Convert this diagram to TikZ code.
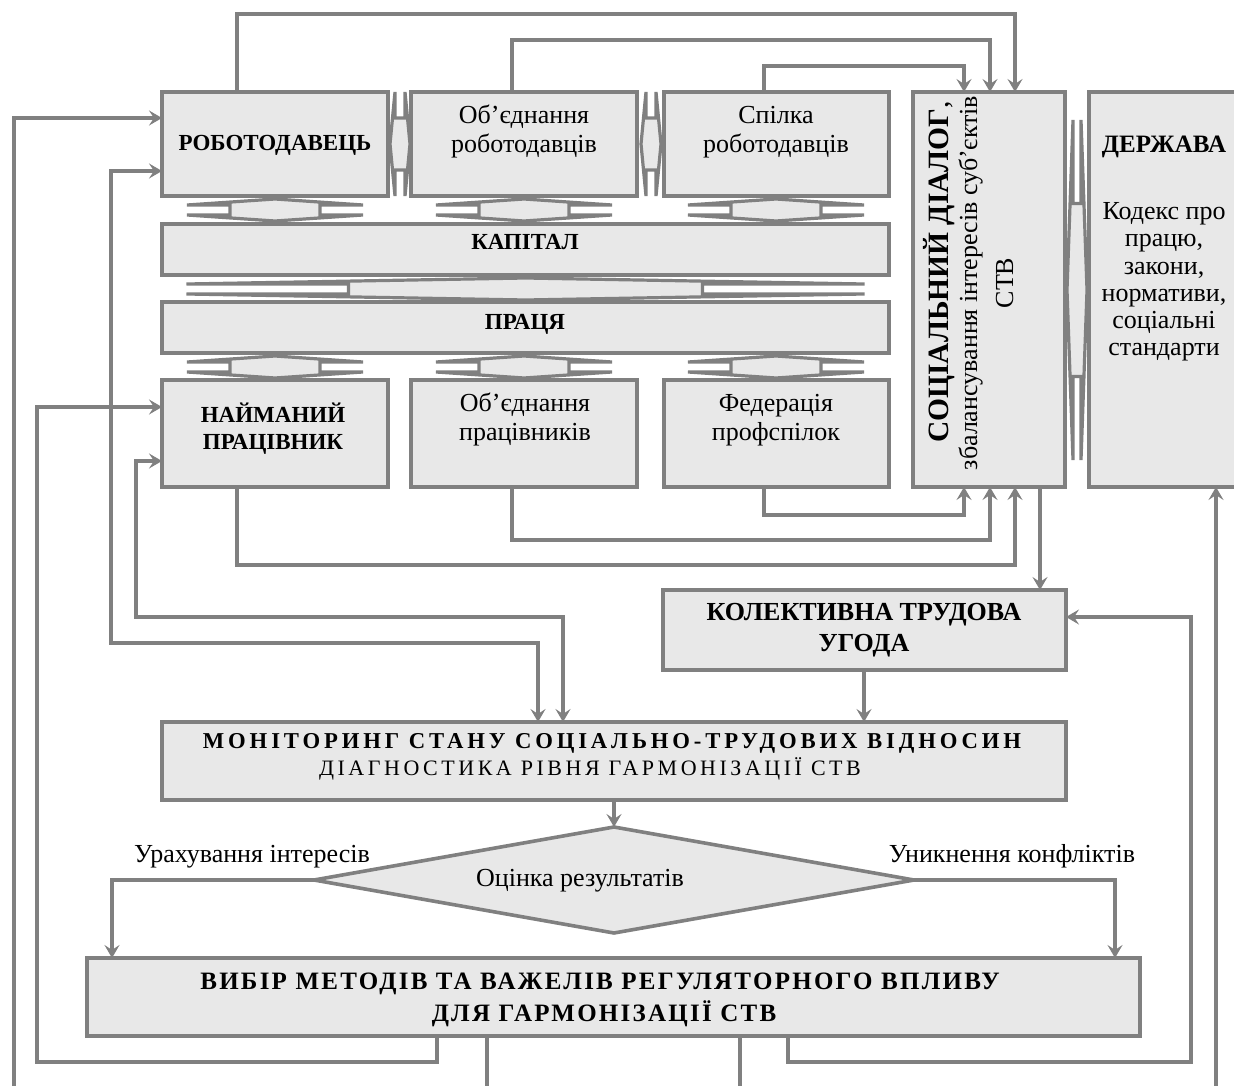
\documentclass[tikz,border=0pt]{standalone}
\usepackage{fontspec}
\setmainfont{Liberation Serif}
\newfontfamily\lsB[LetterSpace=17]{Liberation Serif}
\newfontfamily\lsD[LetterSpace=16]{Liberation Serif}
\newfontfamily\lsC[LetterSpace=9]{Liberation Serif}
\usetikzlibrary{arrows.meta,calc,shapes.geometric}
\definecolor{lg}{RGB}{128,128,128}
\definecolor{bg}{RGB}{232,232,232}
\tikzset{
  box/.style={draw=lg, fill=bg, line width=3.6pt, inner sep=0pt, outer sep=0pt},
  blk/.style={draw=lg, fill=bg, line width=3.2pt},
  conn/.style={draw=lg, line width=3.2pt},
  tipA/.tip={Stealth[length=13pt,width=15pt,inset=5pt]},
  arr/.style={conn, -tipA},
  darr/.style={conn, tipA-tipA},
  txt/.style={inner sep=0pt, anchor=base, text=black},
  nrm/.style={txt, font=\fontsize{26}{29}\selectfont},
  sb/.style={txt, font=\bfseries\fontsize{23}{27}\selectfont},
}
% up-down block arrow: cx, y0, y1, W, S, h
\newcommand\udarr[6]{\draw[blk] (#1,#2) -- ({#1-#4},{#2+#6}) -- ({#1-#5},{#2+#6}) -- ({#1-#5},{#3-#6}) -- ({#1-#4},{#3-#6}) -- (#1,#3) -- ({#1+#4},{#3-#6}) -- ({#1+#5},{#3-#6}) -- ({#1+#5},{#2+#6}) -- ({#1+#4},{#2+#6}) -- cycle;}
% left-right block arrow: x0, x1, cy, H, S, h
\newcommand\lrarr[6]{\draw[blk] (#1,#3) -- ({#1+#6},{#3-#4}) -- ({#1+#6},{#3-#5}) -- ({#2-#6},{#3-#5}) -- ({#2-#6},{#3-#4}) -- (#2,#3) -- ({#2-#6},{#3+#4}) -- ({#2-#6},{#3+#5}) -- ({#1+#6},{#3+#5}) -- ({#1+#6},{#3+#4}) -- cycle;}
\begin{document}
\begin{tikzpicture}[x=1pt,y=-1pt]
\useasboundingbox (0,0) rectangle (1234,1086);
% ---- boxes
\node[box, minimum width=226pt, minimum height=104pt] (A) at (275,144) {};
\node[box, minimum width=226pt, minimum height=104pt] (B) at (524,144) {};
\node[box, minimum width=225pt, minimum height=104pt] (C) at (776.5,144) {};
\node[box, minimum width=152pt, minimum height=395pt] (SD) at (989,289.5) {};
\node[box, minimum width=180pt, minimum height=395pt] (DZ) at (1179,289.5) {};
\node[box, minimum width=727pt, minimum height=51pt] (KAP) at (525.5,249.5) {};
\node[box, minimum width=727pt, minimum height=51pt] (PRA) at (525.5,327.5) {};
\node[box, minimum width=226pt, minimum height=107pt] (D) at (275,433.5) {};
\node[box, minimum width=226pt, minimum height=107pt] (E) at (524,433.5) {};
\node[box, minimum width=225pt, minimum height=107pt] (F) at (776.5,433.5) {};
\node[box, minimum width=403pt, minimum height=80pt] (KTU) at (864.5,630) {};
\node[box, minimum width=904pt, minimum height=78pt] (MON) at (614,761) {};
\node[box, shape=diamond, minimum width=600pt, minimum height=106pt] (DIA) at (614,880) {};
\node[box, minimum width=1053pt, minimum height=78pt] (VYB) at (613.5,997) {};
% ---- block double arrows
\lrarr{390}{410}{144}{52}{26}{5}
\lrarr{641}{661}{144}{52}{26}{5}
\lrarr{1067}{1087}{290}{170}{86.5}{6}
\udarr{275}{199}{221}{88}{45}{6}
\udarr{524}{199}{221}{88}{45}{6}
\udarr{776}{199}{221}{88}{45}{6}
\udarr{525.5}{278}{300}{339}{177}{6}
\udarr{275}{356}{378}{88}{45}{6}
\udarr{524}{356}{378}{88}{45}{6}
\udarr{776}{356}{378}{88}{45}{6}
% ---- texts
\node[sb] (tA) at (275,151) {РОБОТОДАВЕЦЬ};
\node[nrm] (tB1) at (524,124) {Об’єднання};
\node[nrm] (tB2) at (524,153) {роботодавців};
\node[nrm] (tC1) at (776,124) {Спілка};
\node[nrm] (tC2) at (776,153) {роботодавців};
\node[sb] (tKAP) at (525,250) {КАПІТАЛ};
\node[sb] (tPRA) at (525,329) {ПРАЦЯ};
\node[sb] (tD1) at (273,422) {НАЙМАНИЙ};
\node[sb] (tD2) at (273,449) {ПРАЦІВНИК};
\node[nrm] (tE1) at (525,411) {Об’єднання};
\node[nrm] (tE2) at (525,440) {працівників};
\node[nrm] (tF1) at (776,411) {Федерація};
\node[nrm] (tF2) at (776,440) {профспілок};
\node[txt, font=\bfseries\fontsize{25}{29}\selectfont] (tDZ) at (1164,153) {ДЕРЖАВА};
\node[nrm] (tDZ1) at (1164,220) {Кодекс про};
\node[nrm] (tDZ2) at (1164,247) {працю,};
\node[nrm] (tDZ3) at (1164,274) {закони,};
\node[nrm] (tDZ4) at (1164,301) {нормативи,};
\node[nrm] (tDZ5) at (1164,328) {соціальні};
\node[nrm] (tDZ6) at (1164,355) {стандарти};
\node[txt, rotate=90, font=\fontsize{29.5}{31}\selectfont] (tSD1) at (948,272) {\textbf{СОЦІАЛЬНИЙ ДІАЛОГ},};
\node[nrm, rotate=90] (tSD2) at (977,283) {збалансування інтересів суб’єктів};
\node[nrm, rotate=90] (tSD3) at (1013,283) {СТВ};
\node[txt, font=\bfseries\fontsize{26}{30}\selectfont] (tK1) at (864,620) {КОЛЕКТИВНА ТРУДОВА};
\node[txt, font=\bfseries\fontsize{26}{30}\selectfont] (tK2) at (864,651) {УГОДА};
\node[txt, font=\lsB\bfseries\fontsize{22.7}{25}\selectfont] (tM1) at (612,748) {МОНІТОРИНГ СТАНУ СОЦІАЛЬНО-ТРУДОВИХ ВІДНОСИН};
\node[txt, font=\lsD\fontsize{22}{25}\selectfont] (tM2) at (590,775) {ДІАГНОСТИКА РІВНЯ ГАРМОНІЗАЦІЇ СТВ};
\node[nrm] (tDIA) at (580,886) {Оцінка результатів};
\node[nrm] (tL) at (252,862) {Урахування інтересів};
\node[nrm] (tR) at (1012,862) {Уникнення конфліктів};
\node[txt, font=\lsC\bfseries\fontsize{25}{29}\selectfont] (tV1) at (600,989) {ВИБІР МЕТОДІВ ТА ВАЖЕЛІВ РЕГУЛЯТОРНОГО ВПЛИВУ};
\node[txt, font=\lsC\bfseries\fontsize{25}{29}\selectfont] (tV2) at (604,1021) {ДЛЯ ГАРМОНІЗАЦІЇ СТВ};
% ---- free ends at the lower edge
\coordinate (e1) at (14,1090);
\coordinate (e2) at (487,1090);
\coordinate (e3) at (740,1090);
\coordinate (e4) at (1216,1090);
% ---- connectors
\draw[arr] (237,0 |- A.north) -- (237,14) -| (1015,0 |- SD.north);
\draw[arr] (512,0 |- B.north) -- (512,40) -| (990,0 |- SD.north);
\draw[arr] (764,0 |- C.north) -- (764,66) -| (964,0 |- SD.north);
\draw[arr] (237,0 |- D.south) -- (237,565) -| (1015,0 |- SD.south);
\draw[arr] (512,0 |- E.south) -- (512,540) -| (990,0 |- SD.south);
\draw[arr] (764,0 |- F.south) -- (764,515) -| (964,0 |- SD.south);
\draw[arr] (1040,0 |- SD.south) -- (1040,0 |- KTU.north);
\draw[arr] (864,0 |- KTU.south) -- (864,0 |- MON.north);
\draw[arr] (MON.south) -- (DIA.north);
\draw[arr] (DIA.west) -| (112,0 |- VYB.north);
\draw[arr] (DIA.east) -| (1115,0 |- VYB.north);
\draw[arr] (437,0 |- VYB.south) -- (437,1062) -| (37,407) -- (D.west |- 0,407);
\draw[arr] (788,0 |- VYB.south) -- (788,1062) -| (1191,617) -- (KTU.east |- 0,617);
\draw[arr] (e1) |- (A.west |- 0,118);
\draw[arr] (e4) -- (1216,0 |- DZ.south);
\draw[conn] (487,0 |- VYB.south) -- (e2);
\draw[conn] (740,0 |- VYB.south) -- (e3);
\draw[darr] (538,0 |- MON.north) -- (538,643) -| (111,171) -- (A.west |- 0,171);
\draw[darr] (563,0 |- MON.north) -- (563,617) -| (136,461) -- (D.west |- 0,461);
\end{tikzpicture}
\end{document}
